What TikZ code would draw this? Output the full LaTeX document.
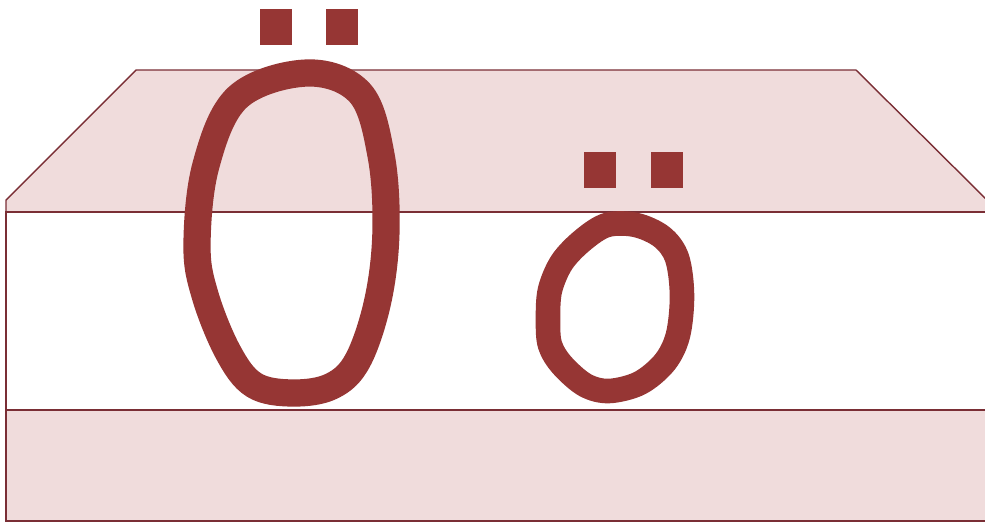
\documentclass[tikz,border=0pt]{standalone}
\definecolor{bandfill}{HTML}{F0DCDC}
\definecolor{bandline}{HTML}{7A2E35}
\definecolor{letter}{HTML}{963634}
\tikzset{
  band/.style={fill=bandfill, draw=bandline, line width=0.8pt},
  plain/.style={fill=white, draw=bandline, line width=0.8pt},
  stroke/.style={draw=letter, line join=round, line cap=round},
  dot/.style={fill=letter}
}
\begin{document}
\begin{tikzpicture}[x=0.02cm,y=-0.02cm]
\useasboundingbox (0,0) rectangle (985,525);
% guide bands
\path[band] (6,212) -- (6,200) -- (136,70) -- (856,70) -- (986,199) -- (986,212) -- cycle;
\path[plain] (6,212) rectangle (986,410);
\path[band] (6,410) rectangle (986,521);
% capital O
\draw[stroke, line width=15.5pt] plot[smooth cycle, tension=0.6] coordinates {
 (307,73) (360,93) (381,155) (386,230) (378,300) (358,360) (332,386)
 (293,393) (254,385) (228,352) (205,295) (197,245) (206,165) (238,97)};
\fill[dot] (260,9) rectangle (292,45);
\fill[dot] (326,9) rectangle (358,45);
% small o
\draw[stroke, line width=14pt] plot[smooth cycle, tension=0.55] coordinates {
 (607,225) (636,225) (662,237) (677,258) (682,295) (678,335) (665,362) (640,383)
 (609,391) (585,385) (562,365) (550,345) (548,320) (550,290) (562,262) (583,240)};
\fill[dot] (584,152) rectangle (616,188);
\fill[dot] (651,152) rectangle (683,188);
\end{tikzpicture}
\end{document}
